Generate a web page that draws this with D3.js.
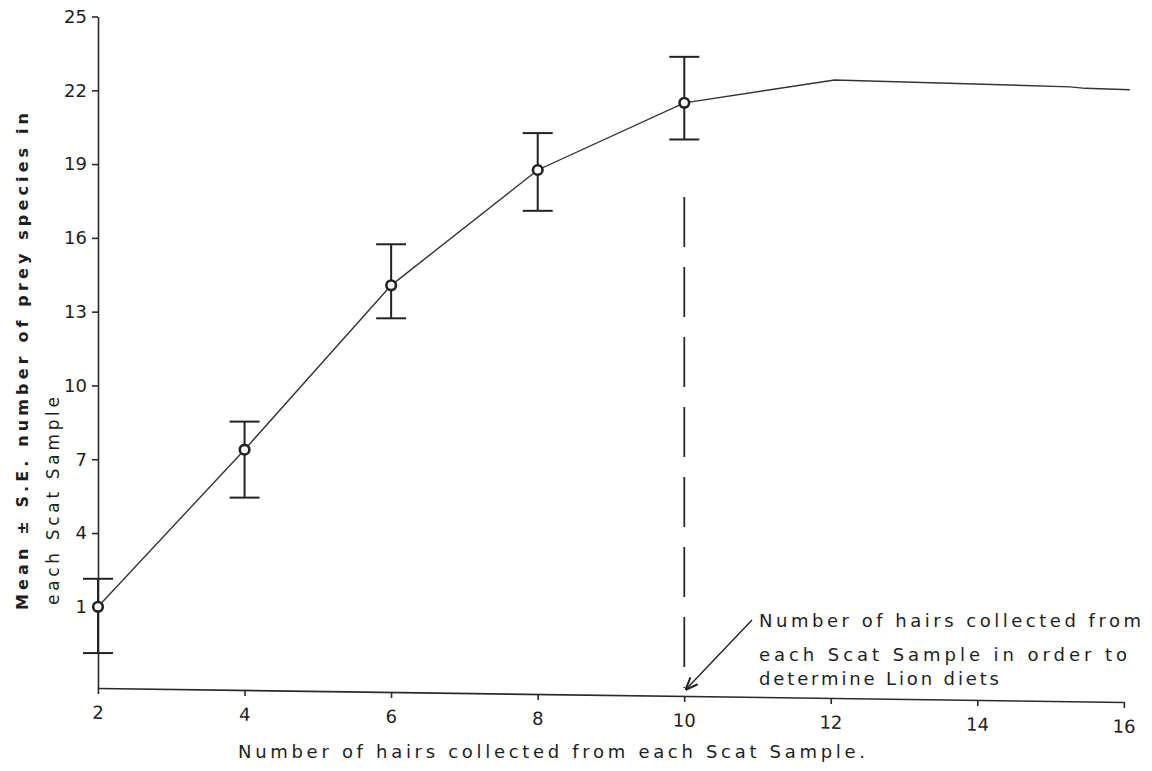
<!DOCTYPE html>
<html>
<head>
<meta charset="utf-8">
<title>Prey species vs hairs per scat</title>
<style>
  html, body {margin: 0; padding: 0; background: #ffffff; overflow: hidden;}
  svg {display: block;}
  text {font-family: "DejaVu Sans", Verdana, sans-serif; fill: #1e1e1e;}
  .axis path, .axis line {stroke: #2a2a2a; stroke-width: 1.6;}
  .axis text {font-size: 18px; font-family: "DejaVu Sans", Verdana, sans-serif;}
</style>
</head>
<body>
<div id="chart"></div>
<script src="https://cdn.jsdelivr.net/npm/d3@7"></script>
<script>
// values
var hairs = [2, 4, 6, 8, 10];
var meanPrey = [1.0, 7.39, 14.07, 18.76, 21.49];
var seHigh = [2.14, 8.53, 15.74, 20.26, 23.36];
var seLow = [-0.88, 5.44, 12.73, 17.10, 20.0];

// curve keeps going past 10 hairs, no error bars there
var tailHairs = [12.05, 15.27, 15.47, 16.08];
var tailMean = [22.42, 22.14, 22.08, 22.02];

var xTicks = [2, 4, 6, 8, 10, 12, 14, 16];
var yTicks = [1, 4, 7, 10, 13, 16, 19, 22, 25];

var cutoff = 10;          // hairs chosen for diet analysis
var cutoffTop = 17.66;    // where the dashed line starts
var yBase = -2.3;         // where the x axis sits

var xTitle = "Number of hairs collected from each Scat Sample.";
var yTitle1 = "Mean \u00b1 S.E. number of prey species in";
var yTitle2 = "each Scat Sample";
var note = ["Number of hairs collected from", "each Scat Sample in order to", "determine Lion diets"];

var width = 1152, height = 771;

var svg = d3.select("#chart").append("svg")
    .attr("width", width)
    .attr("height", height);

var x = d3.scaleLinear().domain([2, 16]).range([98, 1124]);
var y = d3.scaleLinear().domain([yBase, 25]).range([688, 16.5]);

var pts = hairs.map(function(h, i) {
    return {x: h, m: meanPrey[i], hi: seHigh[i], lo: seLow[i]};
});
var curve = pts.map(function(p) { return [p.x, p.m]; })
    .concat(tailHairs.map(function(h, i) { return [h, tailMean[i]]; }));

// axes
svg.append("g")
    .attr("class", "axis")
    .attr("transform", "translate(" + x(2) + ",0)")
    .call(d3.axisLeft(y).tickValues(yTicks).tickSize(6).tickSizeOuter(0).tickPadding(5));

// the hand-drawn base line runs slightly downhill
svg.append("g")
    .attr("class", "axis")
    .attr("transform", "translate(0," + y(yBase) + ") rotate(0.78," + x(2) + ",0)")
    .call(d3.axisBottom(x).tickValues(xTicks).tickSize(6).tickSizeOuter(0).tickPadding(12));

// dashed cut-off at 10 hairs
svg.append("line")
    .attr("x1", x(cutoff)).attr("x2", x(cutoff))
    .attr("y1", y(cutoffTop)).attr("y2", y(yBase))
    .attr("stroke", "#2a2a2a")
    .attr("stroke-width", 1.8)
    .attr("stroke-dasharray", "50,20");

// mean curve
svg.append("path")
    .datum(curve)
    .attr("fill", "none")
    .attr("stroke", "#333")
    .attr("stroke-width", 1.4)
    .attr("d", d3.line().x(function(d) { return x(d[0]); }).y(function(d) { return y(d[1]); }));

// error bars
var capHalf = 15;
var bars = svg.append("g").selectAll("g")
    .data(pts)
  .enter().append("g")
    .attr("stroke", "#222")
    .attr("stroke-width", 2);

bars.append("line")
    .attr("x1", function(d) { return x(d.x); })
    .attr("x2", function(d) { return x(d.x); })
    .attr("y1", function(d) { return y(d.hi); })
    .attr("y2", function(d) { return y(d.lo); });

bars.selectAll(".cap")
    .data(function(d) { return [[d.x, d.hi], [d.x, d.lo]]; })
  .enter().append("line")
    .attr("class", "cap")
    .attr("x1", function(d) { return x(d[0]) - capHalf; })
    .attr("x2", function(d) { return x(d[0]) + capHalf; })
    .attr("y1", function(d) { return y(d[1]); })
    .attr("y2", function(d) { return y(d[1]); });

svg.append("g").selectAll("circle")
    .data(pts)
  .enter().append("circle")
    .attr("cx", function(d) { return x(d.x); })
    .attr("cy", function(d) { return y(d.m); })
    .attr("r", 4.8)
    .attr("fill", "#fff")
    .attr("stroke", "#222")
    .attr("stroke-width", 2.6);

// axis titles
svg.append("text")
    .attr("x", 238)
    .attr("y", 758)
    .attr("font-size", 18)
    .attr("textLength", 627)
    .attr("lengthAdjust", "spacing")
    .text(xTitle);

svg.append("text")
    .attr("transform", "translate(28,610) rotate(-90)")
    .attr("font-size", 16)
    .attr("font-weight", "bold")
    .attr("textLength", 497)
    .attr("lengthAdjust", "spacing")
    .text(yTitle1);

svg.append("text")
    .attr("transform", "translate(59,605) rotate(-90)")
    .attr("font-size", 17)
    .attr("textLength", 208)
    .attr("lengthAdjust", "spacing")
    .text(yTitle2);

// annotation and arrow
svg.append("defs").append("marker")
    .attr("id", "head")
    .attr("viewBox", "0 0 10 10")
    .attr("refX", 9).attr("refY", 5)
    .attr("markerWidth", 9).attr("markerHeight", 9)
    .attr("orient", "auto")
  .append("path")
    .attr("d", "M0,1 L10,5 L0,9")
    .attr("fill", "none")
    .attr("stroke", "#222")
    .attr("stroke-width", 1.6);

svg.append("line")
    .attr("x1", 752).attr("y1", 620)
    .attr("x2", x(cutoff) + 2).attr("y2", y(yBase) + 1)
    .attr("stroke", "#222")
    .attr("stroke-width", 1.4)
    .attr("marker-end", "url(#head)");

var noteLen = [382, 368, 240];
var noteY = [627, 661, 685];
svg.append("g").selectAll("text")
    .data(note)
  .enter().append("text")
    .attr("x", 759)
    .attr("y", function(d, i) { return noteY[i]; })
    .attr("font-size", 18)
    .attr("textLength", function(d, i) { return noteLen[i]; })
    .attr("lengthAdjust", "spacing")
    .text(function(d) { return d; });
</script>
</body>
</html>
